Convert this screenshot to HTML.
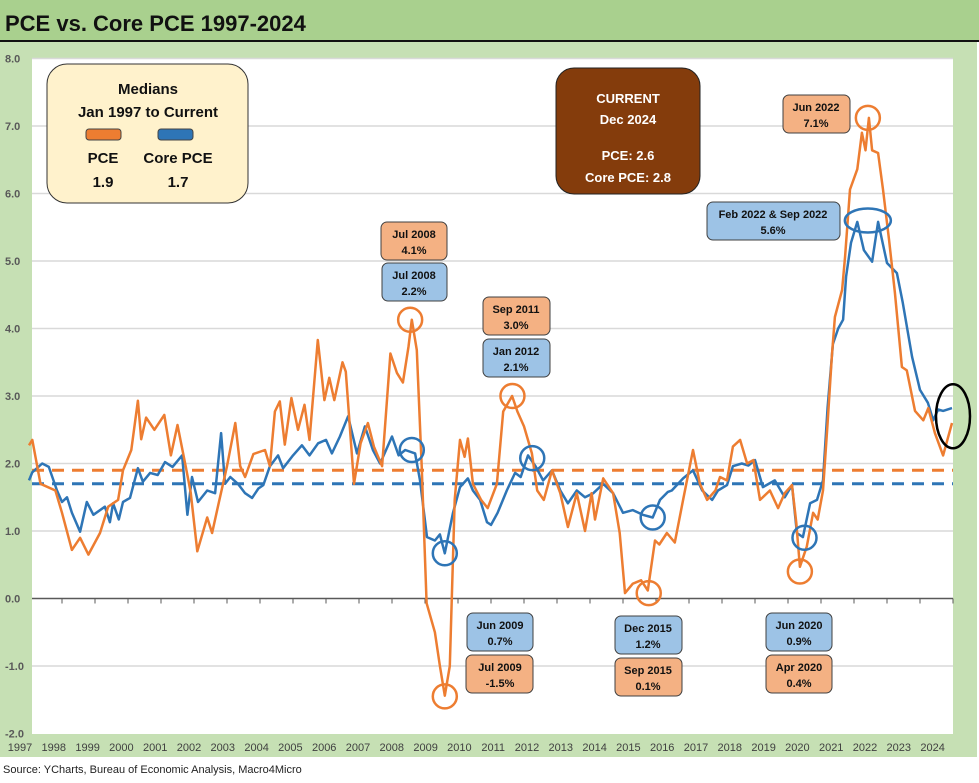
<!DOCTYPE html>
<html><head><meta charset="utf-8"><title>PCE vs. Core PCE 1997-2024</title>
<style>
html,body{margin:0;padding:0;background:#fff;}
svg{display:block;font-family:"Liberation Sans",sans-serif;}
.bx{font-weight:bold;font-size:11px;fill:#111;text-anchor:middle;}
</style></head>
<body>
<svg id="chart" width="979" height="783" viewBox="0 0 979 783" xmlns="http://www.w3.org/2000/svg">
<rect x="0" y="0" width="979" height="41" fill="#a9d08e"/>
<text x="5" y="31" font-size="22" font-weight="bold" fill="#111">PCE vs. Core PCE 1997-2024</text>
<rect x="0" y="40" width="979" height="2" fill="#111"/>
<rect x="0" y="42" width="977" height="715" fill="#c6e0b4"/>
<rect x="32" y="58" width="921" height="676" fill="#fff"/>
<g id="grid"></g>
<g id="yax"></g>
<g id="xax"></g>
<g id="medians"></g>
<g id="series"></g>
<g id="marks"></g>

<g>
<rect x="47" y="64" width="201" height="139" rx="20" fill="#fff2cc" stroke="#333" stroke-width="1"/>
<text x="148" y="94" font-size="15" font-weight="bold" text-anchor="middle" fill="#111">Medians</text>
<text x="148" y="117" font-size="15" font-weight="bold" text-anchor="middle" fill="#111">Jan 1997 to Current</text>
<rect x="86" y="129" width="35" height="11" rx="3" fill="#ed7d31" stroke="#444"/>
<rect x="158" y="129" width="35" height="11" rx="3" fill="#2e75b6" stroke="#444"/>
<text x="103" y="163" font-size="15" font-weight="bold" text-anchor="middle" fill="#111">PCE</text>
<text x="178" y="163" font-size="15" font-weight="bold" text-anchor="middle" fill="#111">Core PCE</text>
<text x="103" y="187" font-size="15" font-weight="bold" text-anchor="middle" fill="#111">1.9</text>
<text x="178" y="187" font-size="15" font-weight="bold" text-anchor="middle" fill="#111">1.7</text>
</g>

<g>
<rect x="556" y="68" width="144" height="126" rx="18" fill="#843c0c" stroke="#222"/>
<text x="628" y="103" font-size="13" font-weight="bold" text-anchor="middle" fill="#fff">CURRENT</text>
<text x="628" y="124" font-size="13" font-weight="bold" text-anchor="middle" fill="#fff">Dec 2024</text>
<text x="628" y="160" font-size="13" font-weight="bold" text-anchor="middle" fill="#fff">PCE: 2.6</text>
<text x="628" y="182" font-size="13" font-weight="bold" text-anchor="middle" fill="#fff">Core PCE: 2.8</text>
</g>

<g><rect x="381" y="222" width="66" height="38" rx="6" fill="#f4b183" stroke="#404040"/><text class="bx" x="414" y="238">Jul 2008</text><text class="bx" x="414" y="254">4.1%</text></g>
<g><rect x="382" y="263" width="65" height="38" rx="6" fill="#9dc3e6" stroke="#404040"/><text class="bx" x="414" y="279">Jul 2008</text><text class="bx" x="414" y="295">2.2%</text></g>
<g><rect x="483" y="297" width="67" height="38" rx="6" fill="#f4b183" stroke="#404040"/><text class="bx" x="516" y="313">Sep 2011</text><text class="bx" x="516" y="329">3.0%</text></g>
<g><rect x="483" y="339" width="67" height="38" rx="6" fill="#9dc3e6" stroke="#404040"/><text class="bx" x="516" y="355">Jan 2012</text><text class="bx" x="516" y="371">2.1%</text></g>
<g><rect x="467" y="613" width="66" height="38" rx="6" fill="#9dc3e6" stroke="#404040"/><text class="bx" x="500" y="629">Jun 2009</text><text class="bx" x="500" y="645">0.7%</text></g>
<g><rect x="466" y="655" width="67" height="38" rx="6" fill="#f4b183" stroke="#404040"/><text class="bx" x="500" y="671">Jul 2009</text><text class="bx" x="500" y="687">-1.5%</text></g>
<g><rect x="615" y="616" width="67" height="38" rx="6" fill="#9dc3e6" stroke="#404040"/><text class="bx" x="648" y="632">Dec 2015</text><text class="bx" x="648" y="648">1.2%</text></g>
<g><rect x="615" y="658" width="67" height="38" rx="6" fill="#f4b183" stroke="#404040"/><text class="bx" x="648" y="674">Sep 2015</text><text class="bx" x="648" y="690">0.1%</text></g>
<g><rect x="766" y="613" width="66" height="38" rx="6" fill="#9dc3e6" stroke="#404040"/><text class="bx" x="799" y="629">Jun 2020</text><text class="bx" x="799" y="645">0.9%</text></g>
<g><rect x="766" y="655" width="66" height="38" rx="6" fill="#f4b183" stroke="#404040"/><text class="bx" x="799" y="671">Apr 2020</text><text class="bx" x="799" y="687">0.4%</text></g>
<g><rect x="783" y="95" width="67" height="38" rx="6" fill="#f4b183" stroke="#404040"/><text class="bx" x="816" y="111">Jun 2022</text><text class="bx" x="816" y="127">7.1%</text></g>
<g><rect x="707" y="202" width="133" height="38" rx="6" fill="#9dc3e6" stroke="#404040"/><text class="bx" x="773" y="218">Feb 2022 &amp; Sep 2022</text><text class="bx" x="773" y="234">5.6%</text></g>

<text x="3" y="773" font-size="11" fill="#222">Source: YCharts, Bureau of Economic Analysis, Macro4Micro</text>
</svg>
<script>
const yTicks = [8,7,6,5,4,3,2,1,0,-1,-2];
const years = [1997,1998,1999,2000,2001,2002,2003,2004,2005,2006,2007,2008,2009,2010,2011,2012,2013,2014,2015,2016,2017,2018,2019,2020,2021,2022,2023,2024];
const medianPCE = 1.9;
const medianCore = 1.7;
const pceT = [1997.0,1997.1,1997.35,1997.8,1998.0,1998.3,1998.55,1998.8,1999.15,1999.4,1999.7,1999.85,2000.1,2000.3,2000.4,2000.55,2000.8,2001.1,2001.3,2001.5,2001.75,2001.9,2002.1,2002.4,2002.55,2002.75,2003.0,2003.25,2003.4,2003.55,2003.8,2004.15,2004.3,2004.45,2004.6,2004.75,2004.95,2005.15,2005.35,2005.5,2005.75,2005.95,2006.1,2006.25,2006.5,2006.6,2006.85,2007.05,2007.27,2007.45,2007.7,2007.95,2008.15,2008.33,2008.5,2008.6,2008.75,2008.9,2009.05,2009.3,2009.45,2009.6,2009.75,2009.9,2010.06,2010.2,2010.3,2010.45,2010.7,2010.9,2011.18,2011.37,2011.64,2011.8,2012.0,2012.24,2012.4,2012.6,2012.85,2013.1,2013.33,2013.6,2013.85,2014.05,2014.15,2014.4,2014.7,2014.9,2015.06,2015.3,2015.55,2015.75,2015.97,2016.1,2016.33,2016.57,2016.82,2017.12,2017.33,2017.55,2017.8,2017.94,2018.15,2018.33,2018.55,2018.76,2018.95,2019.15,2019.45,2019.7,2019.9,2020.12,2020.25,2020.36,2020.57,2020.76,2020.9,2021.06,2021.2,2021.33,2021.42,2021.64,2021.73,2021.88,2022.1,2022.24,2022.35,2022.45,2022.55,2022.73,2022.88,2023.06,2023.24,2023.45,2023.6,2023.85,2024.1,2024.25,2024.45,2024.7,2024.97];
const pceV = [2.27,2.35,1.7,1.6,1.27,0.72,0.9,0.65,0.97,1.36,1.46,1.9,2.2,2.93,2.36,2.68,2.5,2.72,2.12,2.57,1.95,1.57,0.7,1.2,0.97,1.42,1.96,2.6,1.96,1.8,2.14,2.2,1.96,2.77,2.92,2.28,2.97,2.5,2.87,2.35,3.83,2.94,3.27,2.94,3.5,3.36,1.7,2.3,2.6,2.25,1.96,3.63,3.34,3.2,3.73,4.13,3.68,1.96,-0.07,-0.5,-1.0,-1.44,-1.0,1.46,2.35,2.1,2.37,1.7,1.46,1.34,1.7,2.77,3.0,2.77,2.55,2.15,1.6,1.46,1.9,1.56,1.06,1.56,1.0,1.56,1.17,1.78,1.56,0.97,0.08,0.22,0.27,0.12,0.86,0.8,0.97,0.83,1.46,2.2,1.7,1.46,1.6,1.8,1.75,2.25,2.35,2.0,2.05,1.46,1.6,1.34,1.56,1.68,1.12,0.47,0.77,1.27,1.17,1.6,2.6,3.6,4.17,4.57,5.07,6.06,6.36,6.9,6.64,7.12,6.64,6.6,6.06,5.32,4.53,3.43,3.38,2.78,2.64,2.82,2.45,2.12,2.6];
const coreT = [1997.0,1997.1,1997.4,1997.6,1997.85,1998.0,1998.15,1998.3,1998.55,1998.75,1998.95,1999.3,1999.45,1999.55,1999.72,1999.85,2000.06,2000.3,2000.45,2000.67,2000.9,2001.12,2001.35,2001.64,2001.8,2001.94,2002.12,2002.4,2002.64,2002.82,2002.94,2003.1,2003.33,2003.55,2003.76,2003.95,2004.1,2004.3,2004.55,2004.7,2005.0,2005.27,2005.5,2005.76,2006.0,2006.18,2006.42,2006.67,2006.94,2007.18,2007.42,2007.64,2008.0,2008.2,2008.4,2008.7,2008.85,2009.06,2009.3,2009.45,2009.6,2009.85,2010.06,2010.3,2010.45,2010.67,2010.88,2011.0,2011.2,2011.48,2011.73,2011.9,2012.12,2012.35,2012.58,2012.85,2013.1,2013.33,2013.6,2013.85,2014.1,2014.4,2014.7,2015.0,2015.3,2015.6,2015.9,2016.12,2016.36,2016.48,2016.82,2017.12,2017.4,2017.7,2017.88,2018.15,2018.33,2018.6,2018.8,2019.0,2019.24,2019.6,2019.9,2020.12,2020.27,2020.45,2020.67,2020.88,2021.06,2021.2,2021.36,2021.52,2021.67,2021.76,2021.91,2022.1,2022.3,2022.55,2022.73,2023.0,2023.3,2023.48,2023.76,2024.0,2024.24,2024.4,2024.55,2024.7,2024.97];
const coreV = [1.75,1.87,2.0,1.95,1.6,1.43,1.5,1.27,0.99,1.43,1.24,1.36,1.13,1.41,1.17,1.43,1.49,1.93,1.73,1.86,1.83,2.02,1.95,2.12,1.24,1.8,1.43,1.6,1.56,2.45,1.7,1.8,1.7,1.56,1.49,1.63,1.68,1.96,2.12,1.93,2.12,2.27,2.12,2.3,2.35,2.15,2.4,2.7,2.15,2.55,2.2,2.0,2.4,2.12,2.2,2.15,1.75,0.91,0.86,0.95,0.67,1.27,1.65,1.78,1.6,1.46,1.13,1.09,1.27,1.6,1.86,1.8,2.12,1.96,1.75,1.9,1.6,1.41,1.6,1.5,1.56,1.7,1.56,1.27,1.31,1.24,1.2,1.46,1.58,1.6,1.78,1.9,1.6,1.46,1.6,1.68,1.96,2.0,1.97,2.05,1.65,1.75,1.5,1.68,0.97,0.91,1.41,1.46,1.75,2.83,3.77,4.0,4.13,4.77,5.27,5.58,5.16,4.99,5.58,4.97,4.82,4.38,3.58,3.09,2.9,2.64,2.8,2.78,2.82];
const circlesPCE = [[2008.55,4.13],[2011.65,3.0],[2009.6,-1.45],[2015.78,0.08],[2020.36,0.4],[2022.42,7.12]];
const circlesCore = [[2008.6,2.2],[2012.25,2.08],[2009.6,0.67],[2015.9,1.2],[2020.5,0.9]];

const NS = 'http://www.w3.org/2000/svg';
const X0 = 29, XW = 33, Y0 = 598.5, YU = 67.5;
function xs(t){ return X0 + (t - 1997) * XW; }
function ys(v){ return Y0 - v * YU; }
function mk(tag, attrs, parent){
  const e = document.createElementNS(NS, tag);
  for (const k in attrs) e.setAttribute(k, attrs[k]);
  parent.appendChild(e);
  return e;
}
const grid = document.getElementById('grid');
const yax = document.getElementById('yax');
yTicks.forEach(v => {
  if (v !== 0 && v !== -2) {
    const g = mk('line', {x1:32, x2:953, y1:ys(v), y2:ys(v), stroke:'#d9d9d9', 'stroke-width':1.5}, grid);
    
    
  }
  const t = mk('text', {x:5, y:ys(v)+4, 'font-size':11, 'font-weight':'bold', fill:'#595959'}, yax);
  t.textContent = v.toFixed(1);
  
  
});
const xax = document.getElementById('xax');
const zl = mk('line', {x1:32, x2:953, y1:Y0, y2:Y0, stroke:'#595959', 'stroke-width':1.5}, xax);


years.forEach((yr, i) => {
  const tk = mk('line', {x1:xs(yr+1), x2:xs(yr+1), y1:Y0, y2:Y0+5, stroke:'#595959', 'stroke-width':1}, xax);
  
  
  const t = mk('text', {x:20 + i*33.8, y:751, 'font-size':11, 'text-anchor':'middle', fill:'#404040'}, xax);
  t.textContent = yr;
  
  
});
const med = document.getElementById('medians');
const m1 = mk('line', {x1:32, x2:953, y1:ys(medianPCE), y2:ys(medianPCE), stroke:'#ed7d31', 'stroke-width':3, 'stroke-dasharray':'12 8'}, med);


const m2 = mk('line', {x1:32, x2:953, y1:ys(medianCore), y2:ys(medianCore), stroke:'#2e75b6', 'stroke-width':3, 'stroke-dasharray':'12 8'}, med);


const ser = document.getElementById('series');
function pathOf(T, V){ return T.map((t,i)=>(i?'L':'M')+xs(t).toFixed(1)+','+ys(V[i]).toFixed(1)).join(' '); }
const pc = mk('path', {d:pathOf(coreT, coreV), fill:'none', stroke:'#2e75b6', 'stroke-width':2.5, 'stroke-linejoin':'round'}, ser);


const pp = mk('path', {d:pathOf(pceT, pceV), fill:'none', stroke:'#ed7d31', 'stroke-width':2.5, 'stroke-linejoin':'round'}, ser);


const marks = document.getElementById('marks');
circlesPCE.forEach(c => {
  const e = mk('circle', {cx:xs(c[0]), cy:ys(c[1]), r:12, fill:'none', stroke:'#ed7d31', 'stroke-width':2.5}, marks);
  
  
});
circlesCore.forEach(c => {
  const e = mk('circle', {cx:xs(c[0]), cy:ys(c[1]), r:12, fill:'none', stroke:'#2e75b6', 'stroke-width':2.5}, marks);
  
  
});
const el1 = mk('ellipse', {cx:xs(2022.42), cy:ys(5.6), rx:23, ry:12, fill:'none', stroke:'#2e75b6', 'stroke-width':2.5}, marks);


const el2 = mk('ellipse', {cx:953, cy:ys(2.7), rx:17, ry:32, fill:'none', stroke:'#000', 'stroke-width':2.5}, marks);


</script>
</body></html>
